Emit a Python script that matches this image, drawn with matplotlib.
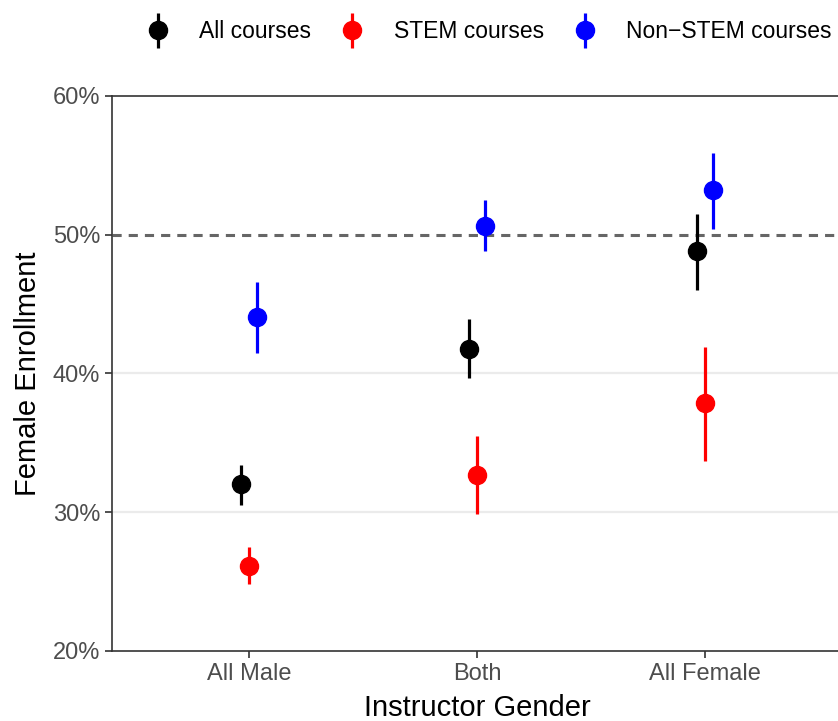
import matplotlib as mpl
mpl.use('Agg')
import matplotlib.pyplot as plt
import numpy as np
from matplotlib.legend_handler import HandlerErrorbar
from matplotlib.ticker import FuncFormatter

plt.rcParams['font.family'] = ['Liberation Sans', 'DejaVu Sans']

categories = ['All Male', 'Both', 'All Female']
series = ['All courses', 'STEM courses', 'Non\u2212STEM courses']
colors = ['black', 'red', 'blue']

# point estimates and interval bounds (percent)
all_mean = [32.0, 41.8, 48.8]
all_low = [30.5, 39.7, 46.0]
all_high = [33.4, 43.9, 51.5]

stem_mean = [26.1, 32.7, 37.9]
stem_low = [24.8, 29.9, 33.7]
stem_high = [27.5, 35.5, 41.9]

nonstem_mean = [44.1, 50.6, 53.2]
nonstem_low = [41.5, 48.8, 50.4]
nonstem_high = [46.6, 52.5, 55.9]

means = [all_mean, stem_mean, nonstem_mean]
lows = [all_low, stem_low, nonstem_low]
highs = [all_high, stem_high, nonstem_high]
offsets = [-0.035, 0.0, 0.035]

fig = plt.figure(figsize=(8.38, 7.21), dpi=100)
ax = fig.add_axes([0.1337, 0.0971, 1.0048 - 0.1337, 0.8669 - 0.0971])

for y in [30, 40]:
    ax.axhline(y, color='#EBEBEB', lw=1.6, zorder=0)
ax.axhline(50, color='#666666', lw=2.2, ls=(0, (3, 2.3)), zorder=1)
ax.axhline(60, color='#333333', lw=1.2, zorder=1, clip_on=False)

x = np.arange(1, len(categories) + 1)
handles = []
for m, lo, hi, off, c, name in zip(means, lows, highs, offsets, colors, series):
    m = np.array(m)
    err = [m - np.array(lo), np.array(hi) - m]
    h = ax.errorbar(x + off, m, yerr=err, fmt='o', color=c, ms=13,
                    elinewidth=2.3, capsize=0, label=name, zorder=3)
    handles.append(h)

ax.set_xlim(0.4, 3.6)
ax.set_ylim(20, 60)
ax.set_xticks(x)
ax.set_xticklabels(categories)
ax.set_yticks([20, 30, 40, 50, 60])
ax.yaxis.set_major_formatter(FuncFormatter(lambda v, p: '%d%%' % v))

for side in ['top', 'right']:
    ax.spines[side].set_visible(False)
for side in ['left', 'bottom']:
    ax.spines[side].set_color('#333333')
    ax.spines[side].set_linewidth(1.2)

ax.tick_params(axis='both', colors='#333333', labelcolor='#4D4D4D',
               labelsize=17, length=5, width=1.2)
ax.tick_params(axis='x', pad=4)
ax.set_xlabel('Instructor Gender', fontsize=21, labelpad=6)
ax.set_ylabel('Female Enrollment', fontsize=21, labelpad=8)

fig.legend(handles=handles, labels=series, loc='center', ncol=3,
           bbox_to_anchor=(0.5835, 0.956), frameon=False, fontsize=16.5,
           handlelength=1.0, handletextpad=1.3, columnspacing=1.3,
           handler_map={type(handles[0]): HandlerErrorbar(yerr_size=0.77)})

fig.savefig('out.png', dpi=100)
